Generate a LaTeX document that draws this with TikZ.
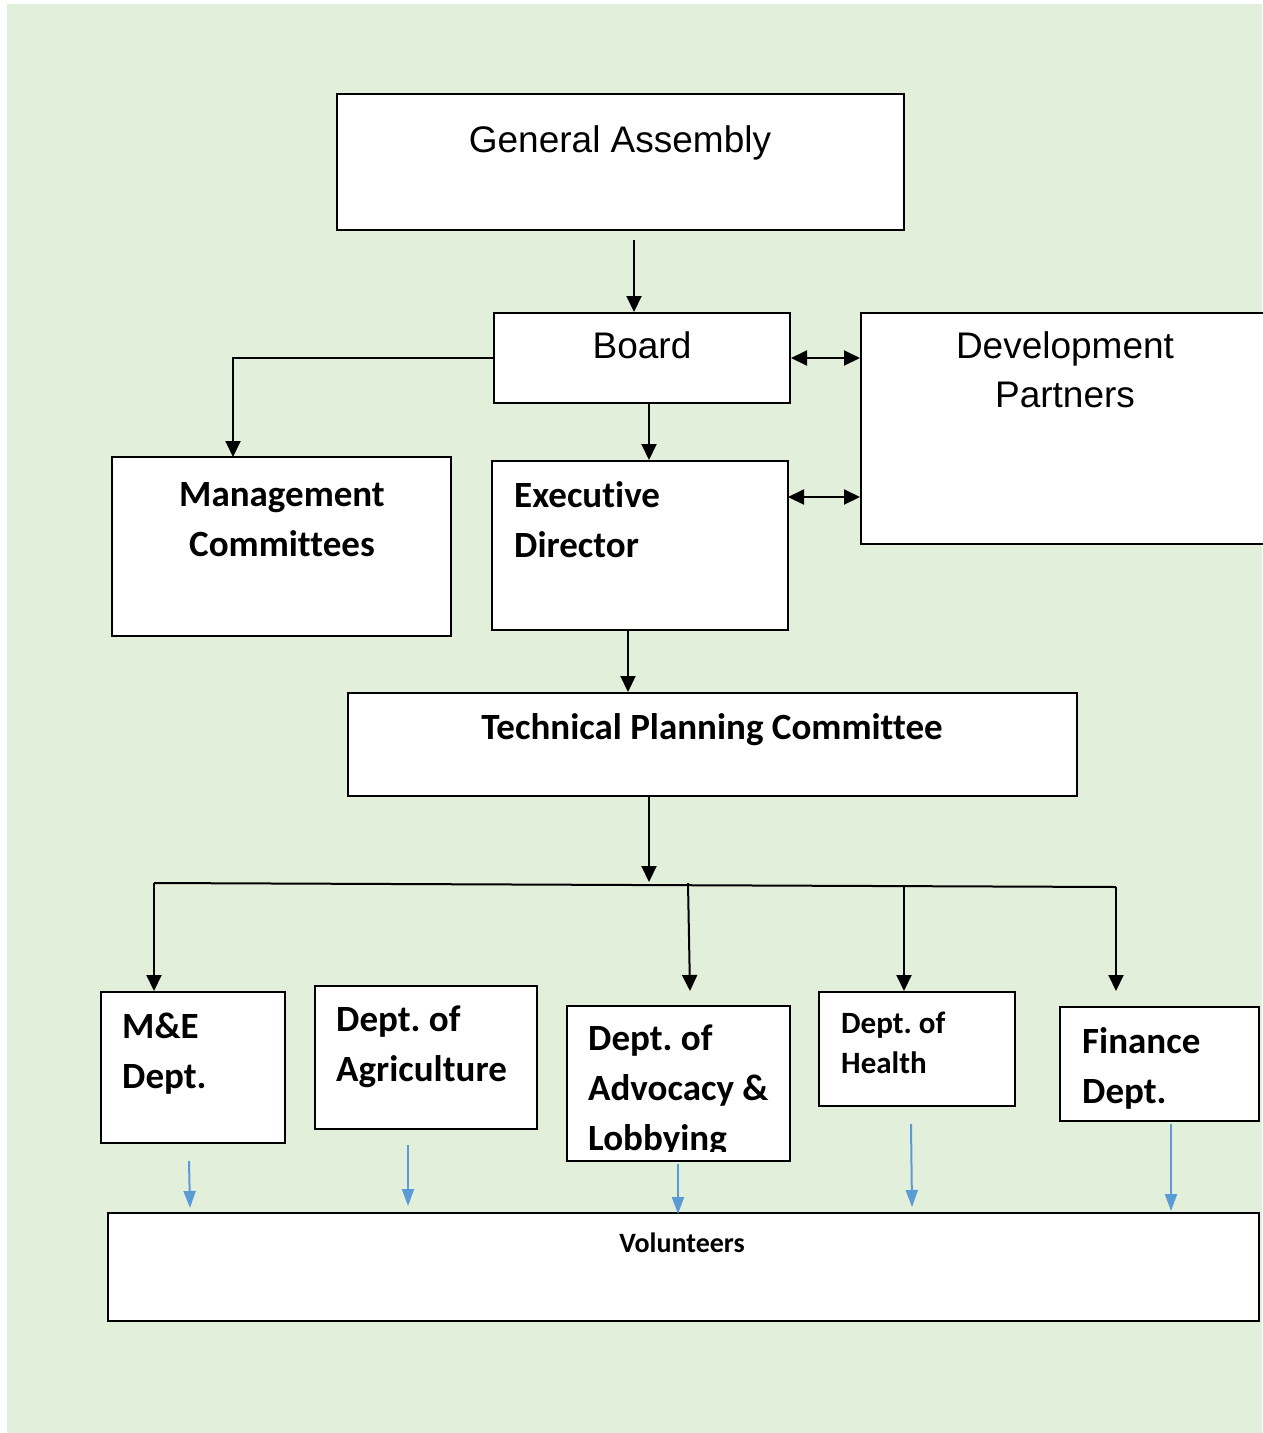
\documentclass[tikz,border=0pt]{standalone}
\usepackage{fontspec}
\setmainfont{Liberation Sans}
\newfontfamily\calibri[Ligatures=NoCommon]{Carlito}
\usepackage{tikz}
\usetikzlibrary{arrows.meta, calc}
\definecolor{bggreen}{HTML}{E2EFDA}
\definecolor{arrblue}{HTML}{5B9BD5}
\frenchspacing

\begin{document}
\begin{tikzpicture}[x=1pt, y=-1pt,
  box/.style={draw=black, line width=2pt, fill=white, inner sep=0pt},
  sans/.style={font=\fontsize{37}{49}\selectfont, inner sep=0pt, align=center},
  bold/.style={font=\calibri\bfseries\fontsize{37}{50}\selectfont, inner sep=0pt, align=left},
  arr/.style={-{Triangle[length=16pt, width=15pt]}, line width=2pt},
  dbl/.style={{Triangle[length=16pt, width=15pt]}-{Triangle[length=16pt, width=15pt]}, line width=2pt},
  blu/.style={-{Triangle[length=17pt, width=12pt]}, line width=2pt, draw=arrblue, fill=arrblue}
]
% page and background
\useasboundingbox (0,0) rectangle (1262,1433);
\fill[white] (0,0) rectangle (1262,1433);
\fill[bggreen] (7,4) rectangle (1262,1433);

% top of the chart
\node[box, minimum width=567pt, minimum height=136pt] (ga) at (620.5,162) {};
\node[sans, anchor=base] (gatxt) at (620,152) {General Assembly};
\node[box, minimum width=296pt, minimum height=90pt] (board) at (642,358) {};
\node[sans, anchor=base] (boardtxt) at (642,358) {Board};
\node[box, minimum width=414pt, minimum height=231pt] (dp) at (1068,428.5) {};
\node[sans, anchor=base] (dptxt) at (1065,407) {Development\\Partners};

% second row
\node[box, minimum width=339pt, minimum height=179pt] (mc) at (281.5,546.5) {};
\node[bold, anchor=base, align=center] (mctxt) at (282,556) {Management\\Committees};
\node[box, minimum width=296pt, minimum height=169pt] (ed) at (640,545.5) {};
\node[bold, anchor=base west] (edtxt) at (514,557) {Executive\\Director};
\node[box, minimum width=729pt, minimum height=103pt] (tpc) at (712.5,744.5) {};
\node[bold, anchor=base] (tpctxt) at (712,739) {Technical Planning Committee};

% departments
\node[box, minimum width=184pt, minimum height=151pt] (me) at (193,1067.5) {};
\node[bold, anchor=base west] (metxt) at (122,1088) {M\&E\\Dept.};
\node[box, minimum width=222pt, minimum height=143pt] (agr) at (426,1057.5) {};
\node[bold, anchor=base west] (agrtxt) at (336,1081) {Dept. of\\Agriculture};
\node[box, minimum width=223pt, minimum height=155pt] (adv) at (678.5,1083.5) {};
\begin{scope}
  \clip (adv.north west) rectangle ([yshift=11pt]adv.south east);
  \node[bold, anchor=base west] (advtxt) at (588,1150) {Dept. of\\Advocacy \&\\Lobbying};
\end{scope}
\node[box, minimum width=196pt, minimum height=114pt] (hea) at (917,1049) {};
\node[bold, anchor=base west, font=\calibri\bfseries\fontsize{31}{40}\selectfont] (heatxt) at (841,1073) {Dept. of\\Health};
\node[box, minimum width=199pt, minimum height=114pt] (fin) at (1159.5,1064) {};
\node[bold, anchor=base west] (fintxt) at (1082,1103) {Finance\\Dept.};

\node[box, minimum width=1151pt, minimum height=108pt] (vol) at (683.5,1267) {};
\node[bold, anchor=base, font=\calibri\bfseries\fontsize{28}{34}\selectfont] (voltxt) at (682,1252) {Volunteers};

% black connectors
\coordinate (gaout) at (634,240);
\draw[arr] (gaout) -- (gaout |- board.north);
\coordinate (mcin) at (233,457);
\draw[arr] (board.west) -| (mcin);
\coordinate (bdout) at (649,403);
\draw[arr] (bdout) -- (bdout |- ed.north);
\draw[dbl] (board.east) -- (board.east -| dp.west);
\coordinate (edr) at (788,497);
\draw[dbl] (edr) -- (edr -| dp.west);
\coordinate (edout) at (628,630);
\draw[arr] (edout) -- (edout |- tpc.north);
\coordinate (tpcout) at (649,796);
\coordinate (bus) at (649,882);
\draw[arr] (tpcout) -- (bus);

% bus to departments
\coordinate (busL) at (154,883);
\coordinate (busR) at (1116,887);
\draw[line width=2pt] (busL) -- (busR);
\draw[arr] (busL) -- (busL |- me.north);
\coordinate (busA) at (688,883);
\coordinate (advin) at (690,991);
\draw[arr] (busA) -- (advin);
\coordinate (busH) at (904,886);
\draw[arr] (busH) -- (busH |- hea.north);
\coordinate (finin) at (1116,991);
\draw[arr] (busR) -- (finin);

% blue arrows to volunteers
\coordinate (me1) at (189,1161);   \coordinate (me2) at (190,1208);
\coordinate (agr1) at (408,1145);  \coordinate (agr2) at (408,1206);
\coordinate (adv1) at (678,1164);  \coordinate (adv2) at (678,1214);
\coordinate (hea1) at (911,1124);  \coordinate (hea2) at (912,1207);
\coordinate (fin1) at (1171,1124); \coordinate (fin2) at (1171,1211);
\draw[blu] (me1) -- (me2);
\draw[blu] (agr1) -- (agr2);
\draw[blu] (adv1) -- (adv2);
\draw[blu] (hea1) -- (hea2);
\draw[blu] (fin1) -- (fin2);
\end{tikzpicture}
\end{document}
